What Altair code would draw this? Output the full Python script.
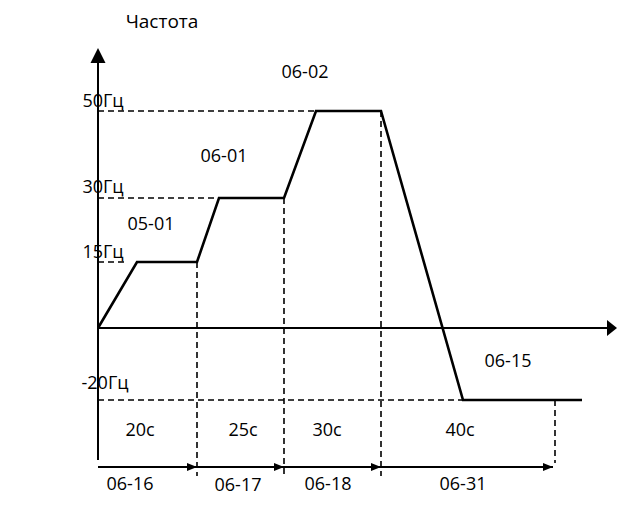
import altair as alt
import pandas as pd

# ---- data (diagram units: x to the right of the frequency axis, y above the time axis) ----
profile_x = [0, 39, 99, 121, 186, 218, 283, 365, 484]
profile_y = [0, 66, 66, 130, 130, 217, 217, -72, -72]

level_labels = ["50Гц", "30Гц", "15Гц", "-20Гц"]
level_y = [217, 130, 66, -72]
level_end_x = [218, 121, 26, 365]
level_label_x = [5, 5, 5, 7]
level_label_y = [226, 140, 75, -56]

boundary_x = [99, 186, 283, 457]
boundary_top = [66, 130, 217, -72]
boundary_bottom = [-148, -148, -148, -135]

segment_start = [0, 99, 186, 283]
segment_end = [99, 186, 283, 455]
segment_times = ["20с", "25с", "30с", "40с"]
segment_time_x = [42, 145, 229, 362]
segment_params = ["06-16", "06-17", "06-18", "06-31"]
segment_param_x = [32, 140, 230, 365]
segment_param_y = [-157, -158, -157, -157]

ramp_labels = ["05-01", "06-01", "06-02", "06-15", "Частота"]
ramp_label_x = [53, 126, 207, 410, 64]
ramp_label_y = [103, 171, 255, -34, 306]

freq_axis = [-132, 265, 280]   # bottom, end of line, arrow tip
time_axis = [0, 509, 519]      # start, end of line, arrow tip
arrow_row_y = -139
time_label_y = -103

XD = [-90, 519]
YD = [-172, 320]
W, H = 609, 492
FONT = "Open Sans"
FS = 18

xs = alt.Scale(domain=XD, nice=False, zero=False)
ys = alt.Scale(domain=YD, nice=False, zero=False)


def X(f):
    return alt.X(f, type="quantitative", scale=xs, axis=None)


def Y(f):
    return alt.Y(f, type="quantitative", scale=ys, axis=None)


profile = pd.DataFrame({"x": profile_x, "y": profile_y, "i": range(len(profile_x))})
levels = pd.DataFrame({"x0": [0] * 4, "x1": level_end_x, "y": level_y,
                       "lab": level_labels, "lx": level_label_x, "ly": level_label_y})
bounds = pd.DataFrame({"x": boundary_x, "y0": boundary_top, "y1": boundary_bottom})
segs = pd.DataFrame({"x0": segment_start, "x1": segment_end, "y": [arrow_row_y] * 4,
                     "t": segment_times, "tx": segment_time_x, "ty": [time_label_y] * 4,
                     "p": segment_params, "px": segment_param_x, "py": segment_param_y})
ramps = pd.DataFrame({"lab": ramp_labels, "x": ramp_label_x, "y": ramp_label_y,
                      "fs": [FS, FS, FS, FS, FS + 1]})
faxis = pd.DataFrame({"x": [0], "y0": [freq_axis[0]], "y1": [freq_axis[1]], "tip": [freq_axis[2]]})
taxis = pd.DataFrame({"y": [0], "x0": [time_axis[0]], "x1": [time_axis[1]], "tip": [time_axis[2]]})

line = alt.Chart(profile).mark_line(color="black", strokeWidth=2.6).encode(
    x=X("x"), y=Y("y"), order="i:Q")

hdash = alt.Chart(levels).mark_rule(color="black", strokeWidth=1.6, strokeDash=[6, 4]).encode(
    x=X("x0"), x2="x1", y=Y("y"))
vdash = alt.Chart(bounds).mark_rule(color="black", strokeWidth=1.6, strokeDash=[6, 4]).encode(
    x=X("x"), y=Y("y0"), y2="y1")

seg_lines = alt.Chart(segs).mark_rule(color="black", strokeWidth=2).encode(
    x=X("x0"), x2="x1", y=Y("y"))
seg_heads = alt.Chart(segs).mark_point(
    shape="M0,0L-2.5,-1L-2.5,1Z", size=64, filled=True, color="black", opacity=1).encode(
    x=X("x1"), y=Y("y"))

f_line = alt.Chart(faxis).mark_rule(color="black", strokeWidth=2).encode(
    x=X("x"), y=Y("y0"), y2="y1")
f_head = alt.Chart(faxis).mark_point(
    shape="M0,0L-1,2L1,2Z", size=225, filled=True, color="black", opacity=1).encode(
    x=X("x"), y=Y("tip"))
t_line = alt.Chart(taxis).mark_rule(color="black", strokeWidth=2).encode(
    x=X("x0"), x2="x1", y=Y("y"))
t_head = alt.Chart(taxis).mark_point(
    shape="M0,0L-1.25,-1L-1.25,1Z", size=256, filled=True, color="black", opacity=1).encode(
    x=X("tip"), y=Y("y"))

txt = dict(font=FONT, fontSize=FS, color="black", align="center", baseline="middle")
lvl_text = alt.Chart(levels).mark_text(**txt).encode(x=X("lx"), y=Y("ly"), text="lab:N")
time_text = alt.Chart(segs).mark_text(**txt).encode(x=X("tx"), y=Y("ty"), text="t:N")
par_text = alt.Chart(segs).mark_text(**txt).encode(x=X("px"), y=Y("py"), text="p:N")
ramp_text = alt.Chart(ramps).mark_text(**txt).encode(
    x=X("x"), y=Y("y"), text="lab:N", size=alt.Size("fs:Q", scale=None, legend=None))

chart = alt.layer(
    hdash, vdash, line, seg_lines, seg_heads, f_line, f_head, t_line, t_head,
    lvl_text, time_text, par_text, ramp_text
).properties(
    width=W, height=H, padding=0, autosize=alt.AutoSizeParams(type="none"),
    background="white"
).configure_view(stroke=None)

chart.save("out.html", embed_options={"renderer": "svg", "actions": False})
